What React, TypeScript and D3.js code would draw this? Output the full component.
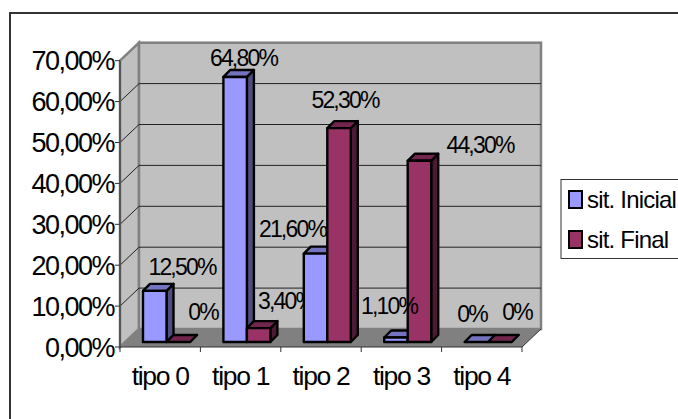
import React from "react";
import * as d3 from "d3";

const categories = ["tipo 0", "tipo 1", "tipo 2", "tipo 3", "tipo 4"];
const seriesNames = ["sit. Inicial", "sit. Final"];
const inicial = [12.5, 64.8, 21.6, 1.1, 0];
const final = [0, 3.4, 52.3, 44.3, 0];
const inicialLabels = ["12,50%", "64,80%", "21,60%", "1,10%", "0%"];
const finalLabels = ["0%", "3,40%", "52,30%", "44,30%", "0%"];
const yTicks = [0, 10, 20, 30, 40, 50, 60, 70];
const yTickLabels = ["0,00%", "10,00%", "20,00%", "30,00%", "40,00%", "50,00%", "60,00%", "70,00%"];

const FONT = "'Liberation Sans', Arial, sans-serif";

// Extrusion of the plot floor and of each bar, in pixels.
const FLOOR_DX = 19;
const FLOOR_DY = -18;
const BAR_SHIFT_DX = 5;
const BAR_SHIFT_DY = -5;
const BAR_DX = 7;
const BAR_DY = -7;

const x = d3.scaleBand<string>().domain(categories).range([120, 522]);
const y = d3.scaleLinear().domain([0, 70]).range([347, 60.7]);
const barY = (v: number) => y(v) + BAR_SHIFT_DY;
const pts = (p: number[][]) => p.map((q) => q.join(",")).join(" ");

const palette = [
  { front: "#9999ff", top: "#7373bf", side: "#4d4d80" },
  { front: "#993366", top: "#73264d", side: "#4d1933" },
];

function Bar({ cat, idx, value }: { cat: string; idx: number; value: number }) {
  const barW = 23.5;
  const x0 = (x(cat) as number) + 18 + BAR_SHIFT_DX + idx * barW;
  const x1 = x0 + barW;
  const yb = barY(0);
  const yt = barY(value);
  const c = palette[idx];
  return (
    <g stroke="#000" strokeWidth={2.4} strokeLinejoin="round">
      <polygon fill={c.side} points={pts([[x1, yt], [x1 + BAR_DX, yt + BAR_DY], [x1 + BAR_DX, yb + BAR_DY], [x1, yb]])} />
      <polygon fill={c.top} points={pts([[x0, yt], [x0 + BAR_DX, yt + BAR_DY], [x1 + BAR_DX, yt + BAR_DY], [x1, yt]])} />
      {value > 0 && <rect x={x0} y={yt} width={barW} height={yb - yt} fill={c.front} />}
    </g>
  );
}

function DataLabel({ at, text }: { at: [number, number]; text: string }) {
  return (
    <text x={at[0]} y={at[1]} fontSize={23} letterSpacing={-1.8} textAnchor="middle" fill="#000">
      {text}
    </text>
  );
}

export default function App() {
  const x0 = x.range()[0];
  const x1 = x.range()[1];
  const y0 = y(0);
  const yTop = y(70);
  const labelPos: [number, number][][] = [
    [[182, 275], [203, 320]],
    [[243.5, 66], [286, 309]],
    [[292.5, 237], [345, 108]],
    [[389, 314], [480, 153]],
    [[472, 322], [517, 320]],
  ];
  return (
    <svg width={678} height={419} style={{ position: "absolute", left: 0, top: 0, fontFamily: FONT }}>
      <rect x={0} y={0} width={678} height={419} fill="#fff" />
      <rect x={10} y={13} width={680} height={420} fill="#fff" stroke="#333" strokeWidth={2} />

      {/* Side wall, back wall and floor */}
      <polygon fill="#c0c0c0" stroke="#808080" strokeWidth={2.5} points={pts([[x0, yTop], [x0 + FLOOR_DX, yTop + FLOOR_DY], [x0 + FLOOR_DX, y0 + FLOOR_DY], [x0, y0]])} />
      <rect x={x0 + FLOOR_DX} y={yTop + FLOOR_DY} width={x1 - x0} height={y0 - yTop} fill="#c0c0c0" stroke="#808080" strokeWidth={2.5} />
      <polygon fill="#808080" points={pts([[x0, y0], [x0 + FLOOR_DX, y0 + FLOOR_DY], [x1 + FLOOR_DX, y0 + FLOOR_DY], [x1, y0]])} />

      {/* Gridlines run along both the side and the back wall */}
      {yTicks.slice(1, -1).map((t) => (
        <polyline key={t} fill="none" stroke="#222" strokeWidth={1} points={pts([[x0, y(t)], [x0 + FLOOR_DX, y(t) + FLOOR_DY], [x1 + FLOOR_DX, y(t) + FLOOR_DY]])} />
      ))}

      {/* Axes */}
      <line x1={x0} y1={yTop} x2={x0} y2={y0} stroke="#555" strokeWidth={2} />
      <line x1={x0} y1={y0} x2={x1} y2={y0} stroke="#333" strokeWidth={1} />
      <line x1={x1} y1={y0} x2={x1 + FLOOR_DX} y2={y0 + FLOOR_DY} stroke="#333" strokeWidth={1} />
      {yTicks.map((t, i) => (
        <g key={t}>
          <line x1={x0 - 5} x2={x0} y1={y(t)} y2={y(t)} stroke="#333" />
          <text x={114} y={y(t) + 9.5} textAnchor="end" fontSize={27} letterSpacing={-1.5} fill="#000">
            {yTickLabels[i]}
          </text>
        </g>
      ))}
      {[...categories.map((c) => x(c) as number), x1].map((p) => (
        <line key={p} x1={p} x2={p} y1={y0} y2={y0 + 5} stroke="#333" />
      ))}
      {categories.map((c) => (
        <text key={c} x={(x(c) as number) + x.bandwidth() / 2} y={385} textAnchor="middle" fontSize={26.5} letterSpacing={-1.3} fill="#000">
          {c}
        </text>
      ))}

      {/* This one label sits under the next group's bar */}
      <DataLabel at={labelPos[1][1]} text={finalLabels[1]} />

      {/* Bars: Final sits beside Inicial, painted left to right */}
      {categories.map((c, i) => (
        <g key={c}>
          <Bar cat={c} idx={0} value={inicial[i]} />
          <Bar cat={c} idx={1} value={final[i]} />
        </g>
      ))}

      {/* Remaining data labels */}
      {categories.map((c, i) => (
        <g key={c}>
          <DataLabel at={labelPos[i][0]} text={inicialLabels[i]} />
          {i !== 1 && <DataLabel at={labelPos[i][1]} text={finalLabels[i]} />}
        </g>
      ))}

      {/* Legend */}
      <rect x={561} y={179.5} width={130} height={79} fill="#fff" stroke="#333" strokeWidth={1} />
      {seriesNames.map((n, i) => (
        <g key={n}>
          <rect x={569} y={191 + i * 40} width={13} height={17} fill={palette[i].front} stroke="#000" strokeWidth={2} />
          <text x={587} y={208 + i * 40} fontSize={24} letterSpacing={-0.8} fill="#000">{n}</text>
        </g>
      ))}
    </svg>
  );
}
